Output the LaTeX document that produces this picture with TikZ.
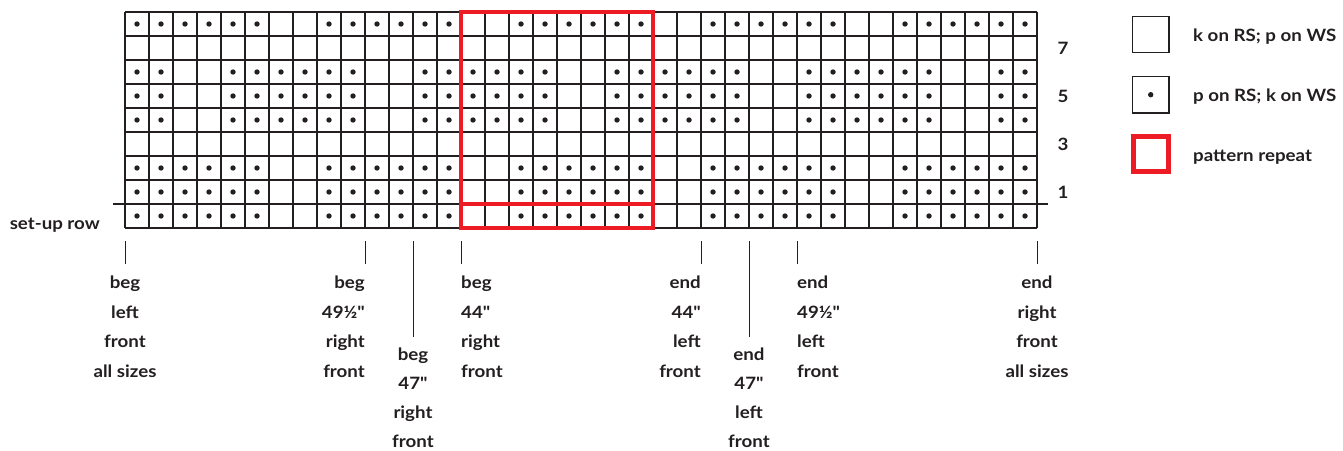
\documentclass[tikz,border=0pt]{standalone}
\usepackage{fontspec}
\setmainfont{Lato}[Ligatures=TeXOff, BoldFeatures={FakeStretch=1.1}]
\definecolor{ink}{HTML}{231F20}
\definecolor{repred}{HTML}{ED1C24}
\newcommand{\inch}{\char34}
\tikzset{
  gridline/.style={draw=ink, line width=1.1pt},
  ruleline/.style={draw=ink, line width=2pt},
  repeatbox/.style={draw=repred, line width=4.6pt},
  stitchdot/.style={fill=ink},
  tickline/.style={draw=ink, line width=1pt},
  lbl/.style={text=ink, inner sep=0pt, font=\bfseries\fontsize{17}{29.5}\selectfont},
  legbox/.style={draw=ink, line width=1.1pt, minimum size=36.5pt, inner sep=0pt},
  redlegbox/.style={draw=repred, line width=4.8pt, minimum size=35pt, inner sep=0pt},
}
\begin{document}
\begin{tikzpicture}[x=1pt, y=-1pt]
\useasboundingbox (0,0) rectangle (1343,450);
% grid
\foreach \i in {0,...,38} \draw[gridline] ({125+24*\i},12) -- ({125+24*\i},228);
\foreach \j in {0,...,9} \draw[gridline] (125,{12+24*\j}) -- (1037,{12+24*\j});
% dots
\foreach \c in {0,...,37}{
  \pgfmathtruncatemacro{\m}{mod(\c,8)}
  \ifnum\m<6
    \foreach \r in {0,6,7,8} \fill[stitchdot] ({137+24*\c},{24+24*\r}) circle (2.7pt);
  \fi
  \ifnum\m=2 \else\ifnum\m=3 \else
    \foreach \r in {2,3,4} \fill[stitchdot] ({137+24*\c},{24+24*\r}) circle (2.7pt);
  \fi\fi
}
% set-up rule
\draw[ruleline] (113,204) -- (1048,204);
% pattern repeat
\draw[repeatbox] (461,12) rectangle (653,228);
\draw[repeatbox] (461,204) -- (653,204);
% row numbers
\node[lbl] (r7) at (1063,48) {7};
\node[lbl] (r5) at (1063,96) {5};
\node[lbl] (r3) at (1063,144) {3};
\node[lbl] (r1) at (1063,192) {1};
\node[lbl, anchor=base east] (setup) at (100,229) {set-up row};
% legend
\node[legbox] (kbox) at (1150.7,34.5) {};
\node[legbox] (pbox) at (1150.7,94.7) {};
\fill[stitchdot] (pbox.center) circle (2.7pt);
\node[redlegbox] (rbox) at (1151,154.3) {};
\node[lbl, anchor=base west] (ktext) at (1193,41.7) {k on RS; p on WS};
\node[lbl, anchor=base west] (ptext) at (1193,101.7) {p on RS; k on WS};
\node[lbl, anchor=base west] (rtext) at (1193,161) {pattern repeat};
% tick coordinates
\coordinate (ta1) at (125,241); \coordinate (tb1) at (125,264);
\coordinate (ta2) at (365,241); \coordinate (tb2) at (365,264);
\coordinate (ta3) at (413,241); \coordinate (tb3) at (413,337);
\coordinate (ta4) at (461,241); \coordinate (tb4) at (461,264);
\coordinate (ta5) at (701,241); \coordinate (tb5) at (701,264);
\coordinate (ta6) at (749,241); \coordinate (tb6) at (749,337);
\coordinate (ta7) at (797,241); \coordinate (tb7) at (797,264);
\coordinate (ta8) at (1037,241); \coordinate (tb8) at (1037,264);
\foreach \k in {1,...,8} \draw[tickline] (ta\k) -- (tb\k);
% bottom labels
\node[lbl, anchor=north, align=center] (begL) at (125,276) {beg\\left\\front\\all sizes};
\node[lbl, anchor=north east, align=right] (beg49) at (365,276) {beg\\49½\inch\\right\\front};
\node[lbl, anchor=north, align=center, font=\bfseries\fontsize{17}{29}\selectfont] (beg47) at (413,348) {beg\\47\inch\\right\\front};
\node[lbl, anchor=north west, align=left] (beg44) at (461,276) {beg\\44\inch\\right\\front};
\node[lbl, anchor=north east, align=right] (end44) at (701,276) {end\\44\inch\\left\\front};
\node[lbl, anchor=north, align=center, font=\bfseries\fontsize{17}{29}\selectfont] (end47) at (749,348) {end\\47\inch\\left\\front};
\node[lbl, anchor=north west, align=left] (end49) at (797,276) {end\\49½\inch\\left\\front};
\node[lbl, anchor=north, align=center] (endR) at (1037,276) {end\\right\\front\\all sizes};
\end{tikzpicture}
\end{document}
